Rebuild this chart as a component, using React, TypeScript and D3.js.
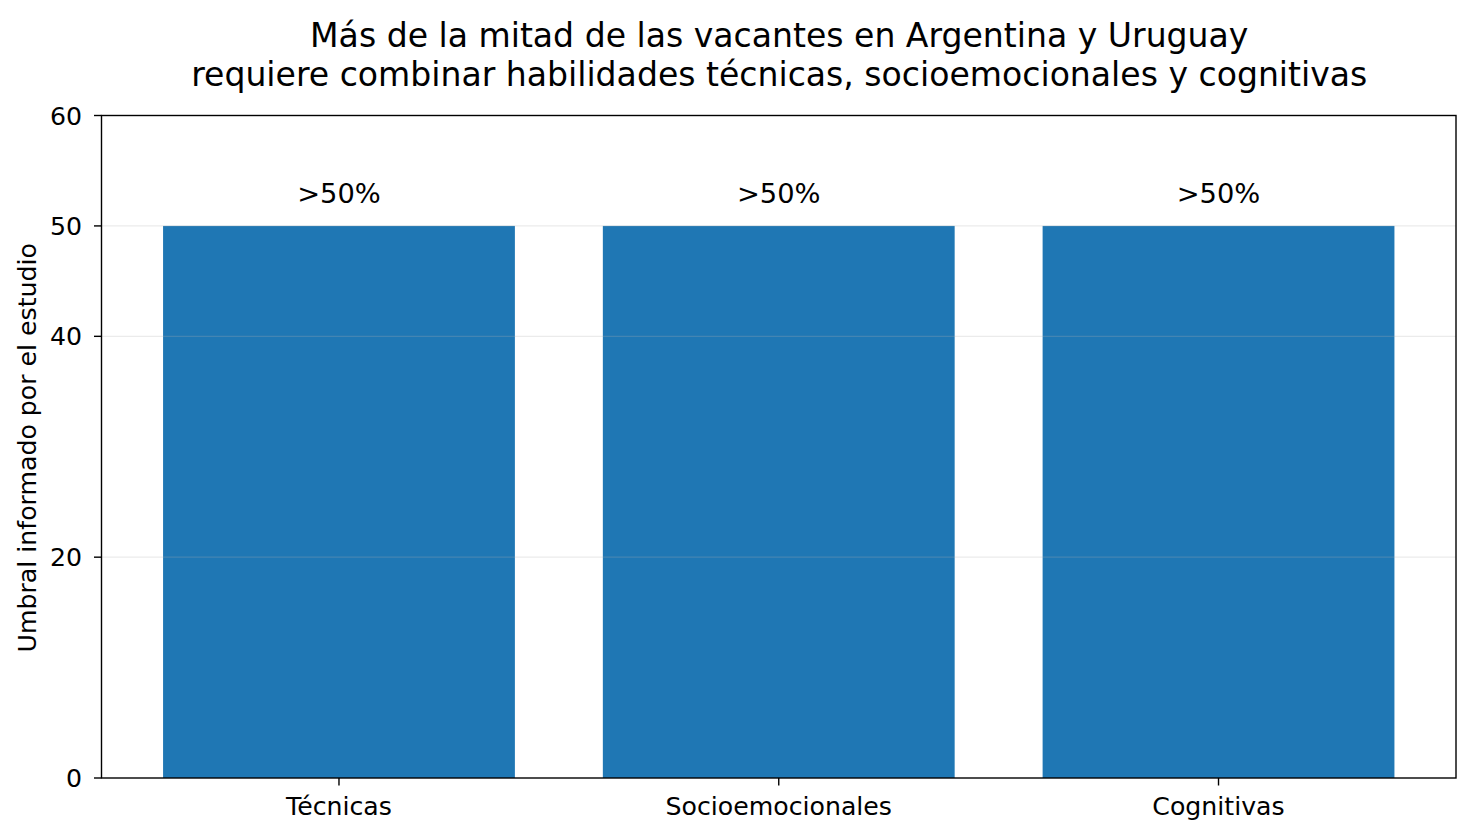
import React, { useEffect, useRef } from "react";
import * as d3 from "d3";

const categories: string[] = ["Técnicas", "Socioemocionales", "Cognitivas"];
const values: number[] = [50, 50, 50];
const barLabels: string[] = [">50%", ">50%", ">50%"];
const yTicks: number[] = [0, 20, 40, 50, 60];
const gridTicks: number[] = [20, 40, 50];
const titleLines: string[] = [
  "Más de la mitad de las vacantes en Argentina y Uruguay",
  "requiere combinar habilidades técnicas, socioemocionales y cognitivas",
];
const yLabel = "Umbral informado por el estudio";

const W = 1474;
const H = 838;
const FONT = "'DejaVu Sans', sans-serif";

export default function App() {
  const ref = useRef<SVGSVGElement | null>(null);

  useEffect(() => {
    const svg = d3.select(ref.current);
    svg.selectAll("*").remove();

    const left = 101.5, right = 1456, top = 115.5, bottom = 778;
    const x = d3.scaleLinear().domain([-0.54, categories.length - 1 + 0.54]).range([left, right]);
    const y = d3.scaleLinear().domain([0, 60]).range([bottom, top]);
    const barW = x(0.8) - x(0);

    // bars
    svg.append("g")
      .selectAll("rect")
      .data(values)
      .join("rect")
      .attr("x", (_d, i) => x(i) - barW / 2)
      .attr("width", barW)
      .attr("y", (d) => y(d))
      .attr("height", (d) => y(0) - y(d))
      .attr("fill", "#1f77b4");

    // grid
    svg.append("g")
      .selectAll("line")
      .data(gridTicks)
      .join("line")
      .attr("x1", left)
      .attr("x2", right)
      .attr("y1", (d) => y(d))
      .attr("y2", (d) => y(d))
      .attr("stroke", "#b0b0b0")
      .attr("stroke-opacity", 0.25)
      .attr("stroke-width", 1.2);

    // bar labels
    svg.append("g")
      .selectAll("text")
      .data(values)
      .join("text")
      .attr("x", (_d, i) => x(i))
      .attr("y", (d) => y(d) - 22.7)
      .attr("text-anchor", "middle")
      .attr("font-family", FONT)
      .attr("font-size", 27.3)
      .attr("fill", "#000")
      .text((_d, i) => barLabels[i]);

    // y axis ticks
    const yg = svg.append("g");
    yg.selectAll("line")
      .data(yTicks)
      .join("line")
      .attr("x1", left - 7.5)
      .attr("x2", left)
      .attr("y1", (d) => y(d))
      .attr("y2", (d) => y(d))
      .attr("stroke", "#000")
      .attr("stroke-width", 1.4);
    yg.selectAll("text")
      .data(yTicks)
      .join("text")
      .attr("x", left - 19.5)
      .attr("y", (d) => y(d))
      .attr("dy", "0.36em")
      .attr("text-anchor", "end")
      .attr("font-family", FONT)
      .attr("font-size", 25.2)
      .attr("fill", "#000")
      .text((d) => String(d));

    // x axis ticks
    const xg = svg.append("g");
    xg.selectAll("line")
      .data(categories)
      .join("line")
      .attr("x1", (_d, i) => x(i))
      .attr("x2", (_d, i) => x(i))
      .attr("y1", bottom)
      .attr("y2", bottom + 7.5)
      .attr("stroke", "#000")
      .attr("stroke-width", 1.4);
    xg.selectAll("text")
      .data(categories)
      .join("text")
      .attr("x", (_d, i) => x(i))
      .attr("y", 815)
      .attr("text-anchor", "middle")
      .attr("font-family", FONT)
      .attr("font-size", 25.2)
      .attr("fill", "#000")
      .text((d) => d);

    // frame
    svg.append("rect")
      .attr("x", left)
      .attr("y", top)
      .attr("width", right - left)
      .attr("height", bottom - top)
      .attr("fill", "none")
      .attr("stroke", "#000")
      .attr("stroke-width", 1.4);

    // y label
    svg.append("text")
      .attr("transform", `translate(36,${(top + bottom) / 2 + 1}) rotate(-90)`)
      .attr("text-anchor", "middle")
      .attr("font-family", FONT)
      .attr("font-size", 25.2)
      .attr("fill", "#000")
      .text(yLabel);

    // title
    svg.append("g")
      .selectAll("text")
      .data(titleLines)
      .join("text")
      .attr("x", (left + right) / 2 + 0.5)
      .attr("y", (_d, i) => 46.7 + i * 39.3)
      .attr("text-anchor", "middle")
      .attr("font-family", FONT)
      .attr("font-size", 33.1)
      .attr("fill", "#000")
      .text((d) => d);
  }, []);

  return (
    <svg
      ref={ref}
      width={W}
      height={H}
      viewBox={`0 0 ${W} ${H}`}
      style={{ position: "absolute", left: 0, top: 0, background: "#fff" }}
    />
  );
}
